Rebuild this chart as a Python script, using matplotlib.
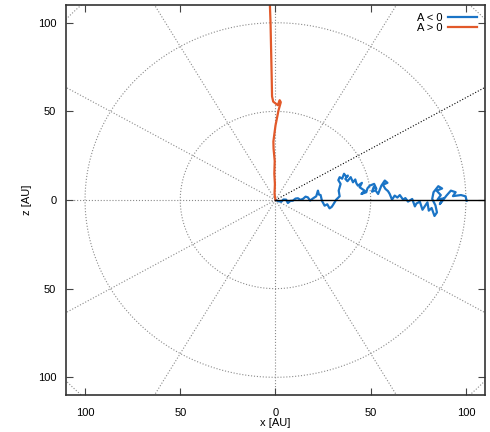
import matplotlib
matplotlib.use("Agg")
import matplotlib.pyplot as plt
import numpy as np

plt.rcParams['font.family'] = ['Liberation Sans', 'DejaVu Sans']

# trajectories, (x, z) in AU
blue_track = [
    (0, 0), (1.5, -0.6), (3, -1), (4.2, 0.3), (5.6, 0.2), (6.5, -1.7), (7.8, -0.5),
    (9.1, -0.4), (10.5, 0.8), (11.8, 1), (13, 0.1), (14.4, 0.6), (15.8, 1.9), (17, 1.5),
    (18.2, -0.3), (18.8, 0.2), (20.1, 1.2), (21.4, 2.1), (22.3, 5.3), (22.8, 3.1),
    (23.7, 2.8), (24.4, -0.4), (25.8, -3.2), (27.2, -2.4), (28.4, -4.7), (29.5, -3.9),
    (30.2, -2.8), (31.9, 0.2), (33.7, 2.1), (33.2, 5.3), (34.2, 9.1), (33.0, 11.2),
    (33.7, 12.9), (35.0, 12.0), (36, 14.8), (37.2, 13.1), (38, 13.8), (36.7, 11.9),
    (37.8, 10.6), (39.5, 12.9), (40.7, 10), (41.9, 11.6), (42.5, 9.4), (43.3, 8.1),
    (45.4, 9.7), (44.2, 7.2), (46.8, 5.3), (45.1, 3.4), (47.7, 4.4), (48.3, 6.6),
    (49.5, 8.1), (51.8, 9.1), (53, 6.3), (51.6, 7.4), (50.7, 4.7), (52.5, 5.5),
    (53.9, 3.4), (55.6, 8.1), (57.4, 11), (58.8, 9.7), (56.4, 8.6), (57.7, 6.3),
    (59.1, 5.0), (60, 3.4), (61.2, 0.2), (62.6, 2.5), (64.0, 1.4), (65.3, 2.8),
    (67, 0.2), (68.2, 1.1), (69.6, -0.9), (71.8, 0.6), (73.2, -3.6), (74.0, -2.0),
    (75.8, -0.9), (77.2, -5.5), (78, -4.2), (79.8, -1.3), (80.5, -6.0), (82.0, -4.5),
    (83.5, -9.0), (84.8, -7.0), (84.0, -3.0), (82.3, 0.6), (83, 4.4), (85.5, 7.8),
    (87.5, 6.5), (84.6, 5.3), (86.8, 2.8), (85.1, 0.2), (88.1, 0.9), (86.3, -2.3),
    (89.8, 2.5), (92.1, 5.3), (94.6, 4.4), (93.2, 2.2), (97.4, 2.8), (99.8, 2.1),
    (100.4, -0.4),
]
red_track = [
    (0, 0), (-0.5, 3.4), (-0.3, 9), (-0.6, 14.8), (-0.4, 22), (-1, 29), (-1.1, 33),
    (0, 42), (1.6, 50.6), (2.8, 55.2), (2.2, 56.3), (1.2, 53.5), (-1.2, 55.5),
    (-1.8, 58.5), (-2, 70), (-2.2, 80), (-2.4, 90), (-2.6, 100), (-3, 112),
]
labels = ['A < 0', 'A > 0']
colors = ['#1a74c6', '#e2592a']

circle_radii = [50, 100, 150]
spoke_angles = [30, 60, 90, 120, 150, 180, 210, 240, 270, 300, 330]
ticks = [-100, -50, 0, 50, 100]

fig = plt.figure(figsize=(4.9, 4.32), dpi=100)
ax = fig.add_axes([0.1347, 0.0856, 0.855, 0.9028])

# polar grid
t = np.linspace(0, 2 * np.pi, 400)
for r in circle_radii:
    ax.plot(r * np.cos(t), r * np.sin(t), ls=':', color='#8a8a8a', lw=0.8, zorder=1)
for a in spoke_angles:
    c = 'black' if a == 30 else '#8a8a8a'
    ax.plot([0, 200 * np.cos(np.radians(a))], [0, 200 * np.sin(np.radians(a))],
            ls=':', color=c, lw=0.8, zorder=1)
ax.axhline(0, xmin=0.5, xmax=1, color='black', lw=1.0, zorder=3)

for track, lab, col in zip([blue_track, red_track], labels, colors):
    arr = np.array(track)
    ax.plot(arr[:, 0], arr[:, 1], color=col, lw=1.6, label=lab, zorder=2)

ax.set_xlim(-110, 110)
ax.set_ylim(-110, 110)
ax.set_xticks(ticks)
ax.set_yticks(ticks)
ax.set_xticklabels([str(abs(v)) for v in ticks])
ax.set_yticklabels([str(abs(v)) for v in ticks])
ax.tick_params(direction='in', top=True, right=True, length=5, width=0.8,
               labelsize=8, color='#444444')
ax.tick_params(axis='x', pad=9)
ax.tick_params(axis='y', pad=7)
for s in ax.spines.values():
    s.set_linewidth(1.2)
    s.set_color('#333333')

ax.set_xlabel('x [AU]', fontsize=8, labelpad=0)
ax.set_ylabel('z [AU]', fontsize=8, labelpad=4)

ax.legend(loc='upper right', frameon=False, fontsize=8, markerfirst=False,
          handlelength=2.6, labelspacing=0.05, borderaxespad=0.3, handletextpad=0.5)

fig.savefig('out.png', dpi=100)
